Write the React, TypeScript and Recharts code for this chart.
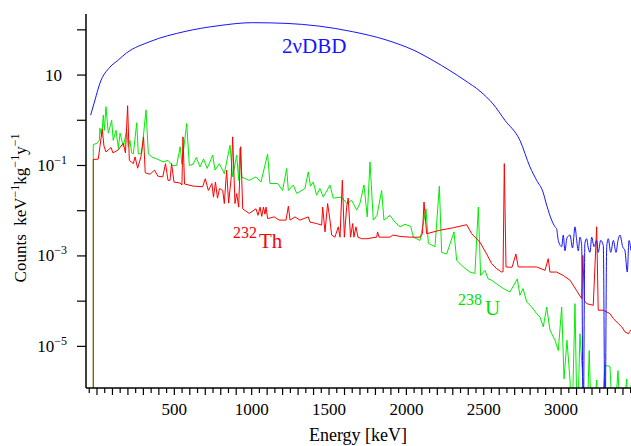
import { LineChart, Line, XAxis, YAxis } from "recharts";

const FONT = '"Liberation Serif", "Times New Roman", serif';

// energies in keV, counts in keV^-1 kg^-1 y^-1 ; 0 = empty bin
const dbdEnergy = [
  -41, -13, 19, 84, 134, 192, 343, 569, 782, 1006, 1222, 1435, 1653, 1868, 1959, 2043, 2172, 2282, 2379, 2476,
  2560, 2637, 2734, 2799, 2842, 2883, 2907, 2939, 2961, 2971, 2982, 3004, 3014, 3025, 3038, 3058, 3074, 3090, 3101, 3111,
  3122, 3133, 3143, 3154, 3165, 3176, 3187, 3198, 3213, 3230, 3240, 3256, 3273, 3284, 3295, 3305, 3321, 3338, 3355, 3368,
  3381, 3398, 3413, 3428, 3439, 3452,
];
const dbdCounts = [
  1.3, 2.8, 6.6, 15, 21, 31, 55, 92, 123, 144, 139, 121, 91, 60, 47, 36, 21, 12.5, 7.6, 4.4,
  2.3, 1.0, 0.36, 0.093, 0.047, 0.026, 0.0132, 0.0062, 0.0044, 0.004, 0.0022, 0.0016, 0.0029, 0.0013, 0.0025, 0.0029, 0.0015, 0.0044, 0.0022, 0.0013,
  0.0026, 0.0017, 0, 0.0019, 0.0024, 0.0015, 0.0012, 0.0026, 0.0016, 0.0022, 0.0012, 0.0022, 0.0017, 0, 0.0016, 0.0024, 0.0012, 0.0022, 0.0012, 0.0022,
  0.0029, 0.0016, 0.0013, 0.00044, 0.0022, 0.0013,
];

const uEnergy = [
  -24, -24, 0, 15, 19, 30, 41, 48, 58, 73, 95, 105, 123, 138, 149, 170, 192, 202, 213, 224,
  235, 257, 267, 289, 317, 332, 354, 386, 429, 459, 489, 515, 538, 549, 580, 597, 621, 642, 666, 689,
  712, 730, 748, 763, 791, 823, 860, 877, 903, 916, 924, 937, 984, 1028, 1060, 1103, 1118, 1168, 1200, 1226,
  1237, 1269, 1291, 1344, 1366, 1380, 1398, 1420, 1441, 1463, 1506, 1527, 1582, 1614, 1646, 1679, 1700, 1726, 1747, 1765,
  1786, 1810, 1840, 1855, 1894, 1926, 1959, 1991, 2028, 2045, 2088, 2127, 2142, 2185, 2213, 2228, 2260, 2308, 2325, 2368,
  2411, 2443, 2465, 2480, 2508, 2529, 2551, 2584, 2626, 2670, 2717, 2734, 2754, 2778, 2810, 2842, 2864, 2885, 2907, 2928,
  2961, 2982, 3004, 3019, 3038, 3058, 3069, 3090, 3105, 3122, 3141, 3165, 3182, 3198, 3230, 3251, 3284, 3316, 3338, 3368,
  3387, 3424, 3439, 3452,
];
const uCounts = [
  0, 0.29, 0.31, 0.36, 0.67, 0.43, 1.3, 0.6, 2.0, 0.52, 1.0, 0.36, 0.6, 0.24, 0.52, 0.26, 0.6, 0.26, 0.36, 0.19,
  0.18, 0.88, 0.18, 0.19, 1.7, 0.18, 0.155, 0.14, 0.12, 0.13, 0.1, 0.1, 0.26, 0.107, 0.85, 0.1, 0.107, 0.15, 0.093, 0.14,
  0.086, 0.12, 0.17, 0.079, 0.11, 0.066, 0.28, 0.056, 0.17, 0.047, 0.24, 0.055, 0.047, 0.056, 0.043, 0.18, 0.04, 0.04, 0.028, 0.086,
  0.028, 0.037, 0.024, 0.031, 0.072, 0.035, 0.043, 0.022, 0.031, 0.02, 0.037, 0.019, 0.02, 0.0144, 0.017, 0.0103, 0.0147, 0.037, 0.0073, 0.12,
  0.0062, 0.0079, 0.028, 0.0062, 0.0079, 0.0056, 0.0044, 0.005, 0.0045, 0.0026, 0.0022, 0.011, 0.0019, 0.0016, 0.035, 0.0012, 0.0011, 0.0034, 0.0008, 0.00057,
  0.00044, 0.00041, 0.012, 0.00037, 0.00048, 0.00031, 0.00029, 0.00024, 0.00019, 0.00016, 0.00031, 0.000135, 0.00019, 0.000096, 0.000074, 0.000053, 0.000044, 0.000027, 0.000074, 0.000023,
  0.0000136, 0.0000081, 0.000074, 0.0000019, 0.0000136, 0.0000018, 0, 0.000088, 0, 0.000019, 0.0000018, 0, 0.0000081, 0, 0.0000018, 0, 0.0000038, 0.0000036, 0, 0.0000029,
  0, 0.0000019, 0, 0.0000014,
];

const thEnergy = [
  -24, -24, 8, 19, 34, 45, 58, 91, 103, 136, 170, 184, 198, 209, 235, 246, 263, 284, 301, 312,
  343, 372, 394, 425, 443, 459, 472, 482, 498, 537, 549, 556, 566, 621, 683, 700, 720, 743, 753, 766,
  779, 792, 813, 823, 838, 851, 868, 877, 892, 903, 916, 929, 942, 984, 1015, 1028, 1041, 1054, 1065, 1076,
  1086, 1093, 1103, 1146, 1178, 1222, 1237, 1248, 1280, 1312, 1366, 1377, 1420, 1452, 1459, 1474, 1491, 1506, 1517, 1538,
  1560, 1571, 1586, 1599, 1614, 1624, 1639, 1653, 1661, 1674, 1687, 1711, 1743, 1808, 1814, 1823, 1894, 1913, 1959, 2023,
  2088, 2104, 2114, 2131, 2217, 2303, 2390, 2422, 2476, 2519, 2551, 2584, 2616, 2625, 2633, 2644, 2683, 2708, 2723, 2778,
  2842, 2896, 2917, 2928, 2971, 3014, 3058, 3101, 3133, 3141, 3151, 3165, 3208, 3230, 3240, 3273, 3316, 3338, 3370, 3392,
  3413, 3435, 3452,
];
const thCounts = [
  0, 0.136, 0.138, 0.26, 0.64, 0.27, 0.2, 0.25, 0.19, 0.22, 0.31, 0.19, 2.1, 0.13, 0.11, 0.155, 0.087, 0.155, 0.43, 0.069,
  0.064, 0.079, 0.058, 0.056, 0.11, 0.047, 0.047, 0.11, 0.043, 0.041, 0.037, 0.43, 0.039, 0.035, 0.034, 0.051, 0.028, 0.04, 0.02, 0.043,
  0.019, 0.031, 0.028, 0.0144, 0.079, 0.0147, 0.056, 0.43, 0.0144, 0.024, 0.012, 0.26, 0.011, 0.0087, 0.0103, 0.011, 0.0079, 0.012, 0.0075, 0.012,
  0.0084, 0.012, 0.0067, 0.0073, 0.0062, 0.0062, 0.0126, 0.0062, 0.0073, 0.0062, 0.0073, 0.0056, 0.0052, 0.0048, 0.012, 0.0034, 0.0144, 0.0062, 0.0029, 0.0026,
  0.0044, 0.0026, 0.047, 0.0026, 0.012, 0.019, 0.0026, 0.0052, 0.0026, 0.0044, 0.0026, 0.0024, 0.0024, 0.0026, 0.0034, 0.0026, 0.0026, 0.0029, 0.0027, 0.0026,
  0.0026, 0.0031, 0.0156, 0.0031, 0.0037, 0.0042, 0.0049, 0.0031, 0.002, 0.0011, 0.00068, 0.00052, 0.00044, 0.00045, 0.11, 0.00057, 0.00056, 0.0011, 0.00057, 0.00057,
  0.00057, 0.00048, 0.00087, 0.00044, 0.00044, 0.00037, 0.00029, 0.00017, 0.000114, 0.00103, 0.000104, 0.000088, 0.000081, 0.0044, 0.000063, 0.000063, 0.000053, 0.000041, 0.000032, 0.000027,
  0.000021, 0.000019, 0.000023,
];

const xTickLabels = [500, 1000, 1500, 2000, 2500, 3000];
const yTicks = [1e-5, 1e-4, 1e-3, 1e-2, 1e-1, 1, 10, 100];
const yLabelledExps = [1, -1, -3, -5];

const X_DOMAIN = [-71, 3452];
const Y_DOMAIN = [1.2e-6, 224];
const FLOOR = 1e-7; // empty bins drop to the bottom of the frame

const xTicks: number[] = [];
for (let e = -50; e <= 3450; e += 50) xTicks.push(e);

const rows = (energy: number[], counts: number[]) =>
  energy.map((e, i) => ({ e, c: counts[i] > 0 ? counts[i] : FLOOR }));

const dbdRows = rows(dbdEnergy, dbdCounts);
const uRows = rows(uEnergy, uCounts);
const thRows = rows(thEnergy, thCounts);

const XTick = ({ x, y, payload }: any) => {
  const v = payload.value;
  const len = v % 100 === 0 ? 7 : 5;
  return (
    <g>
      <line x1={x} x2={x} y1={y} y2={y + len} stroke="#000" strokeWidth={1.2} />
      {xTickLabels.includes(v) && (
        <text x={x} y={y + 27} textAnchor="middle" fontFamily={FONT} fontSize={17} fill="#000">
          {v}
        </text>
      )}
    </g>
  );
};

const YTick = ({ x, y, payload }: any) => {
  const exp = Math.round(Math.log10(payload.value));
  const show = yLabelledExps.includes(exp);
  return (
    <g>
      <line x1={x - 9} x2={x} y1={y} y2={y} stroke="#000" strokeWidth={1.2} />
      {show && exp === 1 && (
        <text x={x - 24} y={y + 5.5} textAnchor="end" fontFamily={FONT} fontSize={17} fill="#000">
          10
        </text>
      )}
      {show && exp !== 1 && (
        <text x={x - 19} y={y + 5.5} textAnchor="end" fontFamily={FONT} fontSize={17} fill="#000">
          10
          <tspan dy={-7} fontSize={12}>{"\u2212" + Math.abs(exp)}</tspan>
        </text>
      )}
    </g>
  );
};

export default function App() {
  return (
    <div style={{ position: "absolute", left: 0, top: 0, width: 631, height: 446, background: "#fff" }}>
      <LineChart width={631} height={446} margin={{ top: 14, right: 0, bottom: 0, left: 0 }}>
        <XAxis
          dataKey="e"
          type="number"
          domain={X_DOMAIN}
          allowDataOverflow
          ticks={xTicks}
          interval={0}
          tick={<XTick />}
          tickLine={false}
          tickSize={0}
          tickMargin={0}
          height={58}
          axisLine={{ stroke: "#000", strokeWidth: 1.5 }}
        />
        <XAxis
          xAxisId="top"
          orientation="top"
          type="number"
          domain={X_DOMAIN}
          height={0}
          tick={false}
          tickLine={false}
          axisLine={{ stroke: "#000", strokeWidth: 1.5 }}
        />
        <YAxis
          type="number"
          scale="log"
          domain={Y_DOMAIN}
          allowDataOverflow
          ticks={yTicks}
          interval={0}
          tick={<YTick />}
          tickLine={false}
          tickSize={0}
          tickMargin={0}
          width={86}
          axisLine={{ stroke: "#000", strokeWidth: 1.5 }}
        />
        <Line data={uRows} dataKey="c" name="238U" stroke="#00ee00" strokeWidth={1} dot={false} isAnimationActive={false} />
        <Line data={thRows} dataKey="c" name="232Th" stroke="#ff0000" strokeWidth={1} dot={false} isAnimationActive={false} />
        <Line data={dbdRows} type="monotone" dataKey="c" name="2vDBD" stroke="#1414ff" strokeWidth={1} dot={false} isAnimationActive={false} />
      </LineChart>

      {/* labels */}
      <svg width={631} height={446} style={{ position: "absolute", left: 0, top: 0, pointerEvents: "none" }} fontFamily={FONT}>
        <text x={282} y={53} fontSize={21} fill="#1414ff">2νDBD</text>
        <text x={233} y={238} fontSize={16} fill="#ff0000">232</text>
        <text x={259} y={248} fontSize={21} fill="#ff0000">Th</text>
        <text x={458} y={305} fontSize={16} fill="#00dd00">238</text>
        <text x={485} y={315} fontSize={21} fill="#00dd00">U</text>
        <text x={26} y={208} transform="rotate(-90 26 208)" textAnchor="middle" fontSize={17} fill="#000">
          <tspan>{"Counts\u00a0\u00a0keV"}</tspan>
          <tspan dy={-7} fontSize={12}>{"\u22121"}</tspan>
          <tspan dy={7}>kg</tspan>
          <tspan dy={-7} fontSize={12}>{"\u22121"}</tspan>
          <tspan dy={7}>y</tspan>
          <tspan dy={-7} fontSize={12}>{"\u22121"}</tspan>
        </text>
        <text x={358} y={441} textAnchor="middle" fontSize={18} fill="#000">Energy [keV]</text>
      </svg>
    </div>
  );
}
